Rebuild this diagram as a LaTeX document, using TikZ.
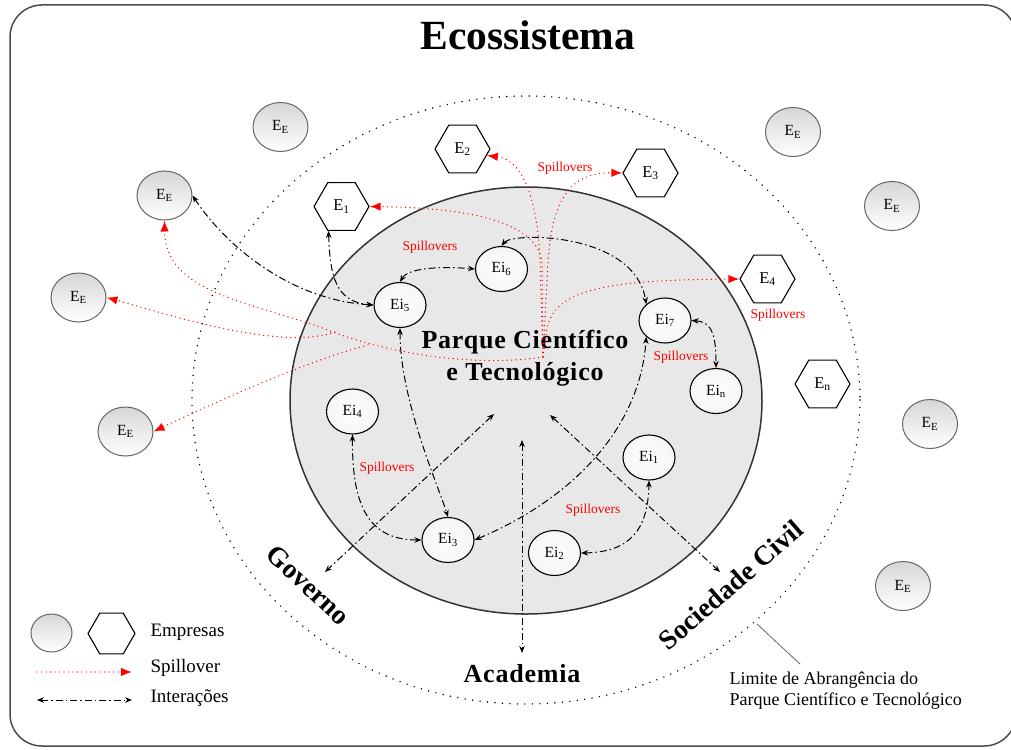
\documentclass[tikz,border=0pt]{standalone}
\usepackage{fontspec}
\setmainfont{Liberation Serif}
\usetikzlibrary{shapes.geometric,arrows.meta}
\tikzset{
  ee/.style={ellipse, draw=black!60, line width=1pt, top color=black!16, bottom color=white,
    minimum width=55pt, minimum height=49pt, inner sep=0pt, font=\fontsize{15.5}{15.5}\selectfont},
  ei/.style={ellipse, draw=black, line width=1.1pt, inner color=white, outer color=black!4,
    minimum width=52pt, minimum height=45pt, inner sep=0pt, font=\fontsize{15.5}{15.5}\selectfont},
  hex/.style={regular polygon, regular polygon sides=6, draw=black, line width=1.1pt, fill=white,
    minimum size=55pt, inner sep=0pt, font=\fontsize{16.5}{16.5}\selectfont},
  inter/.style={line width=1pt, dash pattern=on 7pt off 3pt on 1.5pt off 3pt,
    {Stealth[length=7pt,width=5.5pt]}-{Stealth[length=7pt,width=5.5pt]}},
  spill/.style={red, line width=1.4pt, line cap=round, dash pattern=on 0pt off 4.5pt,
    -{Latex[length=11pt,width=8.5pt]}},
  splab/.style={text=red, font=\fontsize{13.5}{13.5}\selectfont},
  biglab/.style={font=\fontsize{26}{32}\selectfont\bfseries\addfontfeature{LetterSpace=3}},
  rotlab/.style={font=\fontsize{27.5}{27.5}\selectfont\bfseries},
  legtxt/.style={anchor=west, font=\fontsize{19}{19}\selectfont},
}
\begin{document}
\begin{tikzpicture}[x=1pt,y=-1pt]
\useasboundingbox (0,0) rectangle (1011,749);
% frame
\draw[black!70, line width=1.5pt, rounded corners=32pt] (10,5) rectangle (1016,746);
% title
\node[font=\fontsize{41.5}{41.5}\selectfont\bfseries] (title) at (528,35) {Ecossistema};
% limit ellipse
\draw[line width=1.6pt, line cap=round, dash pattern=on 0pt off 7.5pt] (526,400) ellipse [x radius=334, y radius=304];
% park
\draw[black!80, line width=1.5pt, fill=black!9] (526,400.5) ellipse [x radius=236, y radius=213.5];
\node[biglab, align=center] (park) at (525,358) {Parque Científico\\e Tecnológico};

% external companies
\node[ee] (ee1) at (280.5,127) {E\textsubscript{E}};
\node[ee] (ee2) at (164.5,195.5) {E\textsubscript{E}};
\node[ee] (ee3) at (78.5,297.5) {E\textsubscript{E}};
\node[ee] (ee4) at (125.5,431.5) {E\textsubscript{E}};
\node[ee] (ee5) at (793,132) {E\textsubscript{E}};
\node[ee] (ee6) at (892,206) {E\textsubscript{E}};
\node[ee] (ee7) at (930,424) {E\textsubscript{E}};
\node[ee] (ee8) at (903,586) {E\textsubscript{E}};

% hexagons
\node[hex] (E2) at (462.5,149) {E\textsubscript{2}};
\node[hex] (E3) at (650.5,173) {E\textsubscript{3}};
\node[hex] (E1) at (341.5,206.5) {E\textsubscript{1}};
\node[hex] (E4) at (767.5,279) {E\textsubscript{4}};
\node[hex] (En) at (822.5,384) {E\textsubscript{n}};

% incubated companies
\node[ei] (Ei5) at (400,305) {Ei\textsubscript{5}};
\node[ei] (Ei6) at (501.5,269) {Ei\textsubscript{6}};
\node[ei] (Ei7) at (665,320.5) {Ei\textsubscript{7}};
\node[ei] (Ein) at (716,391) {Ei\textsubscript{n}};
\node[ei] (Ei4) at (352.5,411.5) {Ei\textsubscript{4}};
\node[ei] (Ei1) at (649,457.5) {Ei\textsubscript{1}};
\node[ei] (Ei3) at (448,540) {Ei\textsubscript{3}};
\node[ei] (Ei2) at (554.5,553) {Ei\textsubscript{2}};

% actors
\node[rotlab, rotate=-43] (gov) at (308,585) {Governo};
\node[rotlab, rotate=41] (soc) at (731,585) {Sociedade Civil};
\node[biglab] (acad) at (522,674) {Academia};

% spillover labels
\node[splab] at (565,168) {Spillovers};
\node[splab] at (430,247) {Spillovers};
\node[splab] at (778,315) {Spillovers};
\node[splab] at (681,357) {Spillovers};
\node[splab] at (387,468) {Spillovers};
\node[splab] at (593,510) {Spillovers};

% coordinates
\coordinate (hub) at (543,357);
\coordinate (spA) at (320,327);
\coordinate (spB) at (335,332);
\coordinate (spC) at (368,345);
\coordinate (govE) at (325,572);
\coordinate (govC) at (494,414);
\coordinate (acaE) at (522,653);
\coordinate (acaC) at (522,440);
\coordinate (socE) at (720,572);
\coordinate (socC) at (550,415);

% spillovers
\draw[spill] (hub) -- (540,262) .. controls (538,205) and (525,160) .. (E2.-15);
\draw[spill] (hub) -- (542,262) .. controls (537,225) and (480,208) .. (E1.east);
\draw[spill] (hub) -- (548,262) .. controls (552,200) and (570,172) .. (E3.west);
\draw[spill] (hub) -- (546,335) .. controls (550,290) and (600,280) .. (E4.west);
\draw[spill] (hub) .. controls (470,368) and (380,352) .. (spA) .. controls (240,300) and (165,290) .. (ee2.south);
\draw[spill] (spB) .. controls (280,352) and (160,312) .. (ee3.east);
\draw[spill] (spC) .. controls (310,360) and (220,400) .. (ee4.east);

% interactions
\draw[inter] ([xshift=-13pt]E1.south) .. controls (330,275) and (335,302) .. (Ei5.west);
\draw[inter] (ee2.east) .. controls (225,245) and (290,300) .. (Ei5.west);
\draw[inter] (Ei5.north) .. controls (408,268) and (440,266) .. (Ei6.west);
\draw[inter] (Ei6.north) .. controls (512,232) and (635,232) .. (Ei7.north west);
\draw[inter] (Ei7.east) .. controls (712,322) and (716,335) .. (Ein.north);
\draw[inter] (Ei5.south) .. controls (400,400) and (438,485) .. (Ei3.north);
\draw[inter] (Ei4.south) .. controls (352,500) and (365,540) .. (Ei3.west);
\draw[inter] (Ei3.east) .. controls (570,500) and (640,430) .. (Ei7.south west);
\draw[inter] (Ei2.east) .. controls (630,552) and (648,530) .. (Ei1.south);
\draw[inter] (govC) -- (govE);
\draw[inter] (acaC) -- (acaE);
\draw[inter] (socC) -- (socE);

% limit annotation
\node[anchor=north west, align=left, font=\fontsize{18}{21}\selectfont] (lim) at (726,668)
  {Limite de Abrangência do\\Parque Científico e Tecnológico};
\coordinate (limP) at (757,624);
\draw[black!60, line width=0.8pt] (limP) -- (800,664);

% legend
\node[ellipse, draw=black!60, line width=1pt, top color=black!16, bottom color=white,
  minimum width=41pt, minimum height=38pt] (lg1) at (51.5,633) {};
\node[regular polygon, regular polygon sides=6, draw=black, line width=1.1pt, fill=white,
  minimum size=47pt] (lg2) at (111.5,633.5) {};
\node[legtxt] (lt1) at (147,632) {Empresas};
\coordinate (ls1) at (37,672);
\coordinate (ls2) at (132,672);
\draw[spill] (ls1) -- (ls2);
\node[legtxt] (lt2) at (147,668) {Spillover};
\coordinate (li1) at (37,700);
\coordinate (li2) at (132,700);
\draw[inter] (li1) -- (li2);
\node[legtxt] (lt3) at (147,698) {Interações};
\end{tikzpicture}
\end{document}
